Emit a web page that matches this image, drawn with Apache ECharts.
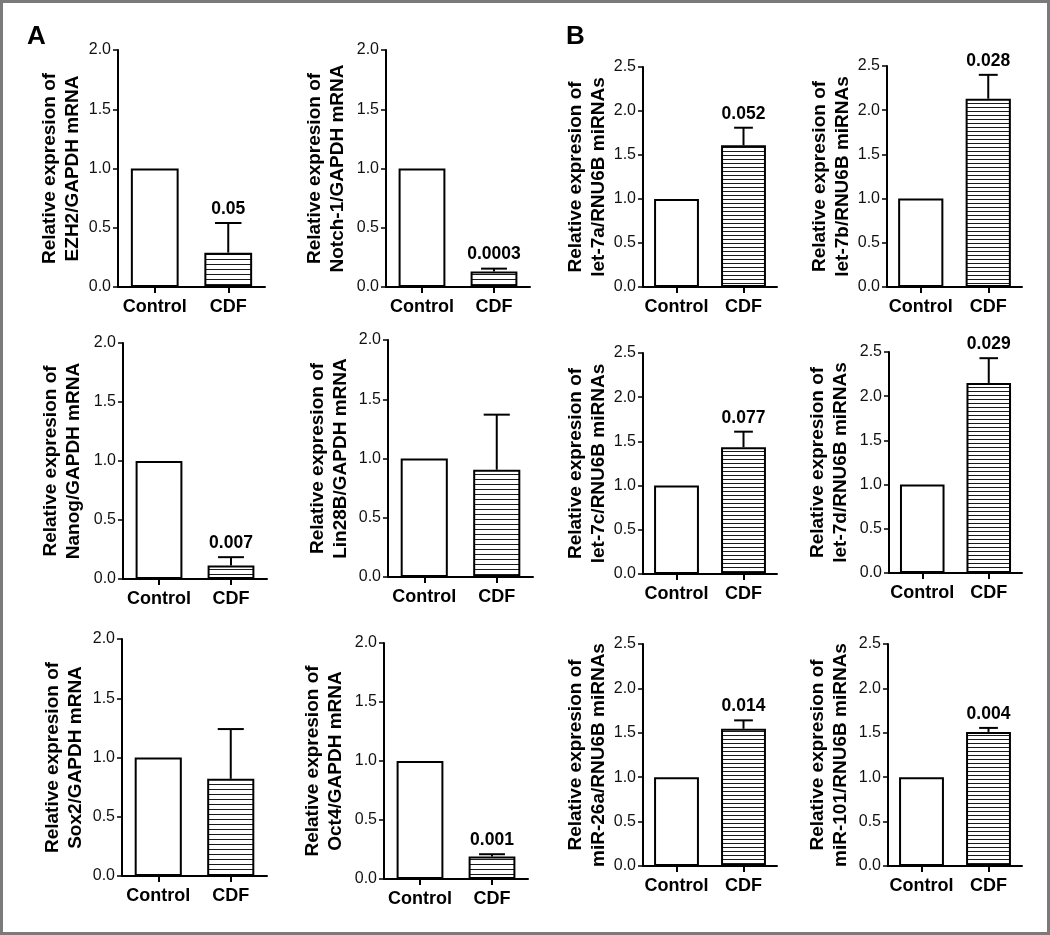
<!DOCTYPE html>
<html>
<head>
<meta charset="utf-8">
<script src="https://cdn.jsdelivr.net/npm/echarts@6/dist/echarts.min.js"></script>
<style>
html,body{margin:0;padding:0;background:#fff;}
#chart{width:1050px;height:935px;}
</style>
</head>
<body>
<div id="chart"></div>
<script>
// ---------------- DATA ----------------
const categories = ['Control', 'CDF'];
const yNameLine1 = 'Relative expresion of';
const panelTargets = [
  'EZH2/GAPDH mRNA', 'Notch-1/GAPDH mRNA', 'Nanog/GAPDH mRNA',
  'Lin28B/GAPDH mRNA', 'Sox2/GAPDH mRNA', 'Oct4/GAPDH mRNA',
  'let-7a/RNU6B miRNAs', 'let-7b/RNU6B miRNAs', 'let-7c/RNU6B miRNAs',
  'let-7d/RNU6B miRNAs', 'miR-26a/RNU6B miRNAs', 'miR-101/RNU6B miRNAs'
];
const controlValues = [1, 1, 1, 1, 1, 1, 1, 1, 1, 1, 1, 1];
const cdfValues     = [0.29, 0.13, 0.115, 0.905, 0.82, 0.19, 1.61, 2.13, 1.435, 2.15, 1.545, 1.51];
const cdfErrorTops  = [0.54, 0.155, 0.185, 1.37, 1.24, 0.21, 1.81, 2.40, 1.61, 2.43, 1.64, 1.555];
const pValueLabels  = ['0.05', '0.0003', '0.007', '', '', '0.001', '0.052', '0.028', '0.077', '0.029', '0.014', '0.004'];
const yAxisMax      = [2, 2, 2, 2, 2, 2, 2.5, 2.5, 2.5, 2.5, 2.5, 2.5];
const yAxisInterval = 0.5;
const panelLetters  = ['A', 'B'];

// ---------------- LAYOUT (pixels) ----------------
// [axisLeft, axisTop, axisRight, axisBottom, nameGap]
const layout = [
  [118, 50, 265, 287, 34],
  [386, 50, 530, 287, 37],
  [123, 343, 267, 579, 38],
  [388, 340, 533, 577, 36],
  [122, 639, 267, 876, 35],
  [384, 643, 528, 879, 37],
  [643, 67, 777, 287, 30],
  [887, 66, 1022, 287, 33],
  [643, 353, 777, 574, 33],
  [889, 352, 1022, 573, 37],
  [643, 644, 777, 866, 33],
  [888, 644, 1022, 866, 36]
];
const letterPos = [[27, 37], [566, 37]];

const FONT = '"Liberation Sans", Arial, Helvetica, sans-serif';

function hatch(spacing) {
  const c = document.createElement('canvas');
  c.width = 4; c.height = spacing;
  const g = c.getContext('2d');
  g.fillStyle = '#ffffff'; g.fillRect(0, 0, 4, spacing);
  g.fillStyle = '#1a1a1a'; g.fillRect(0, spacing - 1, 4, 1);
  return c;
}
const hatchA = hatch(5);
const hatchB = hatch(4);

const grids = [], xAxes = [], yAxes = [], series = [];
panelTargets.forEach((target, i) => {
  const [l, t, r, b, gap] = layout[i];
  const isB = i >= 6;
  grids.push({ left: l, top: t, width: r - l, height: b - t, containLabel: false });
  xAxes.push({
    type: 'category', gridIndex: i, data: categories,
    axisLine: { show: true, lineStyle: { color: '#000', width: 2 } },
    axisTick: { show: true, alignWithLabel: true, length: 6, lineStyle: { color: '#000', width: 2 } },
    axisLabel: { interval: 0, hideOverlap: false, color: '#000', fontFamily: FONT, fontSize: 18, fontWeight: 'bold', margin: 11 },
    splitLine: { show: false }
  });
  yAxes.push({
    type: 'value', gridIndex: i, min: 0, max: yAxisMax[i], interval: yAxisInterval,
    name: yNameLine1 + '\n' + target, nameLocation: 'middle', nameGap: gap,
    nameTextStyle: { color: '#000', fontFamily: FONT, fontSize: 19, fontWeight: 'bold', lineHeight: 23 },
    axisLine: { show: true, lineStyle: { color: '#000', width: 2 } },
    axisTick: { show: true, length: 5, lineStyle: { color: '#000', width: 1.5 } },
    axisLabel: { color: '#111', fontFamily: FONT, fontSize: 16, margin: 7, formatter: v => v.toFixed(1) },
    splitLine: { show: false }
  });
  series.push({
    type: 'bar', xAxisIndex: i, yAxisIndex: i, barWidth: isB ? '67%' : '65%',
    silent: true, animation: false,
    data: [
      { value: controlValues[i], itemStyle: { color: '#fff', borderColor: '#000', borderWidth: 2 } },
      { value: cdfValues[i], itemStyle: { color: { image: isB ? hatchB : hatchA, repeat: 'repeat' }, borderColor: '#000', borderWidth: 2 } }
    ]
  });
  const label = pValueLabels[i];
  const capRatio = isB ? 0.28 : 0.36;
  series.push({
    type: 'custom', xAxisIndex: i, yAxisIndex: i, silent: true, animation: false,
    data: [[1, cdfValues[i], cdfErrorTops[i]]],
    z: 5,
    renderItem: function (params, api) {
      const base = api.coord([api.value(0), api.value(1)]);
      const top = api.coord([api.value(0), api.value(2)]);
      const band = api.size([1, 0])[0];
      const half = band * capRatio / 2;
      const children = [
        { type: 'line', shape: { x1: base[0], y1: base[1], x2: top[0], y2: top[1] }, style: { stroke: '#000', lineWidth: 2 } },
        { type: 'line', shape: { x1: top[0] - half, y1: top[1], x2: top[0] + half, y2: top[1] }, style: { stroke: '#000', lineWidth: 2 } }
      ];
      if (label) {
        children.push({
          type: 'text',
          style: { text: label, x: top[0], y: top[1] - 14, align: 'center', verticalAlign: 'middle',
                   textAlign: 'center', textVerticalAlign: 'middle',
                   font: 'bold 17.5px ' + FONT, fill: '#000' }
        });
      }
      return { type: 'group', children: children };
    }
  });
});

const graphics = [
  { type: 'rect', shape: { x: 1.5, y: 1.5, width: 1047, height: 932 }, style: { fill: 'none', stroke: '#7a7a7a', lineWidth: 3 }, silent: true }
];
panelLetters.forEach((ltr, k) => {
  graphics.push({ type: 'text', left: letterPos[k][0], top: letterPos[k][1] - 13,
    style: { text: ltr, font: 'bold 26px ' + FONT, fill: '#000' }, silent: true });
});

const chart = echarts.init(document.getElementById('chart'), null, { renderer: 'canvas' });
chart.setOption({
  animation: false,
  backgroundColor: '#fff',
  textStyle: { fontFamily: FONT },
  grid: grids, xAxis: xAxes, yAxis: yAxes, series: series,
  graphic: graphics
});
</script>
</body>
</html>
